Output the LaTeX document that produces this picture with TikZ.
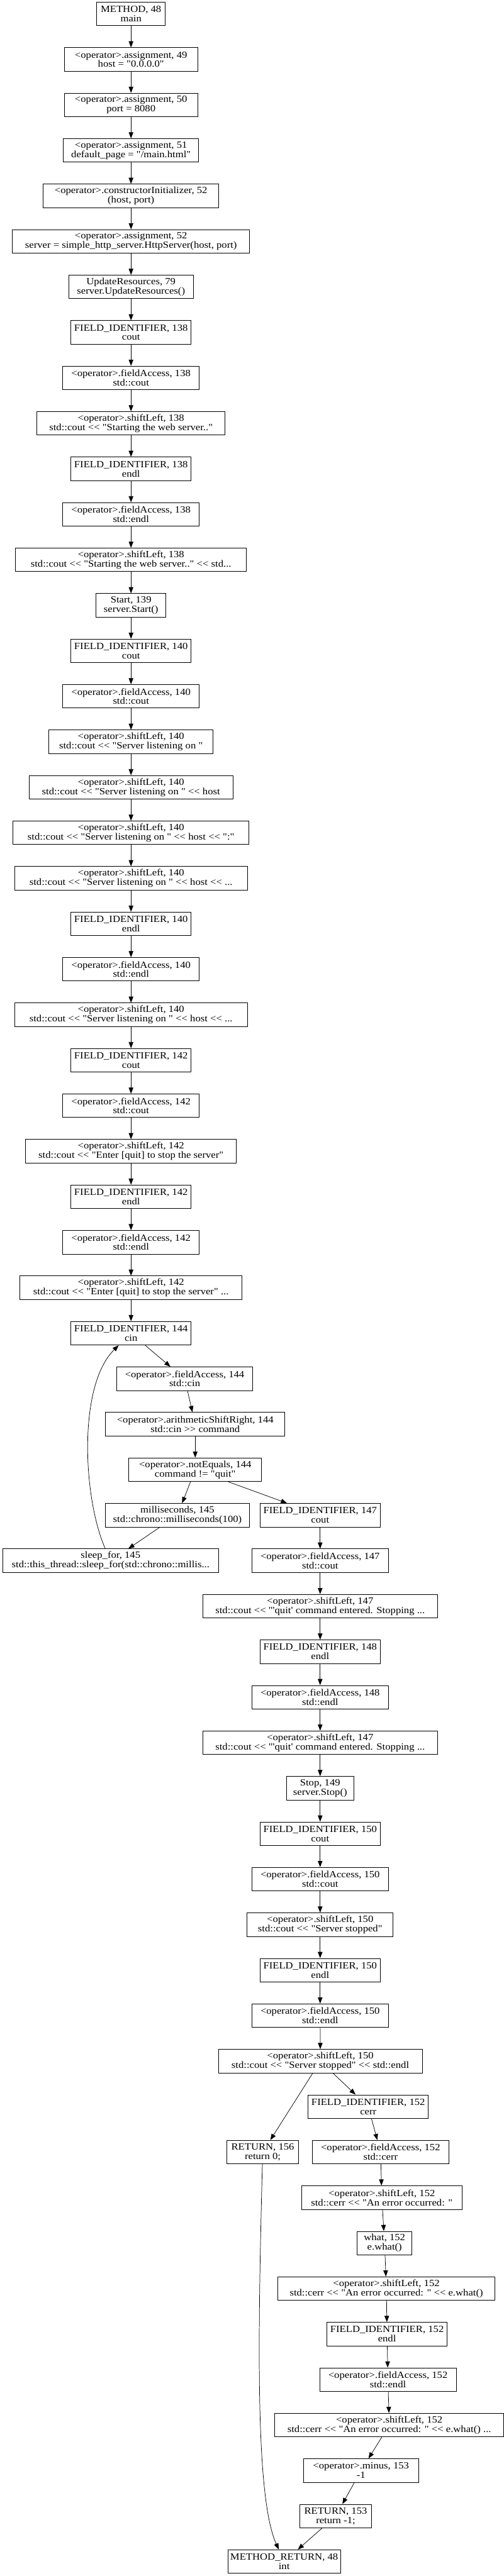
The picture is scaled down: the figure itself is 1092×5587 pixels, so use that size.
\documentclass[tikz,border=0pt]{standalone}
\usepackage{fontspec}
\setmainfont{Liberation Serif}[Ligatures=TeXOff,FakeStretch=1.1]
\usetikzlibrary{arrows.meta}
\begin{document}
\begin{tikzpicture}[x=0.75pt,y=-0.75pt,
  box/.style={draw, line width=1pt, fill=white, inner sep=0pt, minimum height=38.25pt,
              align=center, font=\fontsize{15.5}{15.2}\selectfont},
  wd/.style={minimum width={#1*0.75pt}},
  edge/.style={draw, line width=0.75pt, -{Triangle[length=10pt,width=7.5pt]}}]
\fill[white] (0,0) rectangle (1092,5587);
\useasboundingbox (0,0) rectangle (1092,5587);

\node[box,wd=148] (n1) at (284,30.3) {METHOD, 48\\main};
\node[box,wd=289] (n2) at (284,129.0) {<operator>.assignment, 49\\host = "0.0.0.0"};
\node[box,wd=289] (n3) at (284,227.6) {<operator>.assignment, 50\\port = 8080};
\node[box,wd=294] (n4) at (284,326.3) {<operator>.assignment, 51\\default\_page = "/main.html"};
\node[box,wd=380] (n5) at (284,425.0) {<operator>.constructorInitializer, 52\\(host, port)};
\node[box,wd=514] (n6) at (284,523.6) {<operator>.assignment, 52\\server = simple\_http\_server.HttpServer(host, port)};
\node[box,wd=270] (n7) at (284,622.3) {UpdateResources, 79\\server.UpdateResources()};
\node[box,wd=260] (n8) at (284,721.0) {FIELD\_IDENTIFIER, 138\\cout};
\node[box,wd=296] (n9) at (284,819.6) {<operator>.fieldAccess, 138\\std::cout};
\node[box,wd=408] (n10) at (284,918.3) {<operator>.shiftLeft, 138\\std::cout << "Starting the web server.."};
\node[box,wd=260] (n11) at (284,1017.0) {FIELD\_IDENTIFIER, 138\\endl};
\node[box,wd=296] (n12) at (284,1115.6) {<operator>.fieldAccess, 138\\std::endl};
\node[box,wd=500] (n13) at (284,1214.3) {<operator>.shiftLeft, 138\\std::cout << "Starting the web server.." << std...};
\node[box,wd=151] (n14) at (284,1313.0) {Start, 139\\server.Start()};
\node[box,wd=260] (n15) at (284,1411.6) {FIELD\_IDENTIFIER, 140\\cout};
\node[box,wd=296] (n16) at (284,1510.3) {<operator>.fieldAccess, 140\\std::cout};
\node[box,wd=356] (n17) at (284,1609.0) {<operator>.shiftLeft, 140\\std::cout << "Server listening on "};
\node[box,wd=442] (n18) at (284,1707.6) {<operator>.shiftLeft, 140\\std::cout << "Server listening on " << host};
\node[box,wd=511] (n19) at (284,1806.3) {<operator>.shiftLeft, 140\\std::cout << "Server listening on " << host << ":"};
\node[box,wd=505] (n20) at (284,1905.0) {<operator>.shiftLeft, 140\\std::cout << "Server listening on " << host << ...};
\node[box,wd=260] (n21) at (284,2003.6) {FIELD\_IDENTIFIER, 140\\endl};
\node[box,wd=296] (n22) at (284,2102.3) {<operator>.fieldAccess, 140\\std::endl};
\node[box,wd=505] (n23) at (284,2201.0) {<operator>.shiftLeft, 140\\std::cout << "Server listening on " << host << ...};
\node[box,wd=260] (n24) at (284,2299.6) {FIELD\_IDENTIFIER, 142\\cout};
\node[box,wd=296] (n25) at (284,2398.3) {<operator>.fieldAccess, 142\\std::cout};
\node[box,wd=457] (n26) at (284,2497.0) {<operator>.shiftLeft, 142\\std::cout << "Enter [quit] to stop the server"};
\node[box,wd=260] (n27) at (284,2595.6) {FIELD\_IDENTIFIER, 142\\endl};
\node[box,wd=296] (n28) at (284,2694.3) {<operator>.fieldAccess, 142\\std::endl};
\node[box,wd=481] (n29) at (284,2793.0) {<operator>.shiftLeft, 142\\std::cout << "Enter [quit] to stop the server" ...};
\node[box,wd=260] (n30) at (284,2891.6) {FIELD\_IDENTIFIER, 144\\cin};
\node[box,wd=295] (n31) at (400.4,2990.3) {<operator>.fieldAccess, 144\\std::cin};
\node[box,wd=388.5] (n32) at (423.2,3089.0) {<operator>.arithmeticShiftRight, 144\\std::cin >> command};
\node[box,wd=288] (n33) at (423.2,3187.6) {<operator>.notEquals, 144\\command != "quit"};
\node[box,wd=311.5] (n34) at (384.6,3286.3) {milliseconds, 145\\std::chrono::milliseconds(100)};
\node[box,wd=260] (n35) at (694,3286.3) {FIELD\_IDENTIFIER, 147\\cout};
\node[box,wd=468] (n36) at (239.8,3385.0) {sleep\_for, 145\\std::this\_thread::sleep\_for(std::chrono::millis...};
\node[box,wd=296] (n37) at (694,3385.0) {<operator>.fieldAccess, 147\\std::cout};
\node[box,wd=509] (n38) at (694,3483.6) {<operator>.shiftLeft, 147\\std::cout << "'quit' command entered. Stopping ...};
\node[box,wd=260] (n39) at (694,3582.3) {FIELD\_IDENTIFIER, 148\\endl};
\node[box,wd=296] (n40) at (694,3681.0) {<operator>.fieldAccess, 148\\std::endl};
\node[box,wd=509] (n41) at (694,3779.6) {<operator>.shiftLeft, 147\\std::cout << "'quit' command entered. Stopping ...};
\node[box,wd=146] (n42) at (694,3878.3) {Stop, 149\\server.Stop()};
\node[box,wd=260] (n43) at (694,3977.0) {FIELD\_IDENTIFIER, 150\\cout};
\node[box,wd=296] (n44) at (694,4075.6) {<operator>.fieldAccess, 150\\std::cout};
\node[box,wd=316] (n45) at (694,4174.3) {<operator>.shiftLeft, 150\\std::cout << "Server stopped"};
\node[box,wd=260] (n46) at (694,4273.0) {FIELD\_IDENTIFIER, 150\\endl};
\node[box,wd=296] (n47) at (694,4371.6) {<operator>.fieldAccess, 150\\std::endl};
\node[box,wd=442] (n48) at (694.4,4470.3) {<operator>.shiftLeft, 150\\std::cout << "Server stopped" << std::endl};
\node[box,wd=260] (n49) at (798.3,4569.0) {FIELD\_IDENTIFIER, 152\\cerr};
\node[box,wd=155] (n50) at (569.5,4667.6) {RETURN, 156\\return 0;};
\node[box,wd=296] (n51) at (825,4667.6) {<operator>.fieldAccess, 152\\std::cerr};
\node[box,wd=348] (n52) at (827.7,4766.3) {<operator>.shiftLeft, 152\\std::cerr << "An error occurred: "};
\node[box,wd=118] (n53) at (833.7,4865.0) {what, 152\\e.what()};
\node[box,wd=471] (n54) at (837.6,4963.6) {<operator>.shiftLeft, 152\\std::cerr << "An error occurred: " << e.what()};
\node[box,wd=260] (n55) at (839,5062.3) {FIELD\_IDENTIFIER, 152\\endl};
\node[box,wd=296] (n56) at (841,5161.0) {<operator>.fieldAccess, 152\\std::endl};
\node[box,wd=496] (n57) at (843.9,5259.6) {<operator>.shiftLeft, 152\\std::cerr << "An error occurred: " << e.what() ...};
\node[box,wd=249] (n58) at (782.6,5358.3) {<operator>.minus, 153\\-1};
\node[box,wd=155] (n59) at (727.7,5457.0) {RETURN, 153\\return -1;};
\node[box,wd=244] (n60) at (616,5555.6) {METHOD\_RETURN, 48\\int};

\foreach \a/\b in {n1/n2,n2/n3,n3/n4,n4/n5,n5/n6,n6/n7,n7/n8,n8/n9,n9/n10,n10/n11,
  n11/n12,n12/n13,n13/n14,n14/n15,n15/n16,n16/n17,n17/n18,n18/n19,n19/n20,n20/n21,
  n21/n22,n22/n23,n23/n24,n24/n25,n25/n26,n26/n27,n27/n28,n28/n29,n29/n30,n30/n31,
  n31/n32,n32/n33,n33/n34,n33/n35,n34/n36,n35/n37,n37/n38,n38/n39,n39/n40,n40/n41,
  n41/n42,n42/n43,n43/n44,n44/n45,n45/n46,n46/n47,n47/n48,n48/n49,n48/n50,n49/n51,
  n51/n52,n52/n53,n53/n54,n54/n55,n55/n56,n56/n57,n57/n58,n58/n59,n59/n60}
  \path[edge] (\a) -- (\b);
\path[edge] (n36) .. controls (180,3250) and (168,3005) .. (n30);
\path[edge] (n50) .. controls (558,5100) and (555,5420) .. (n60);
\end{tikzpicture}
\end{document}
